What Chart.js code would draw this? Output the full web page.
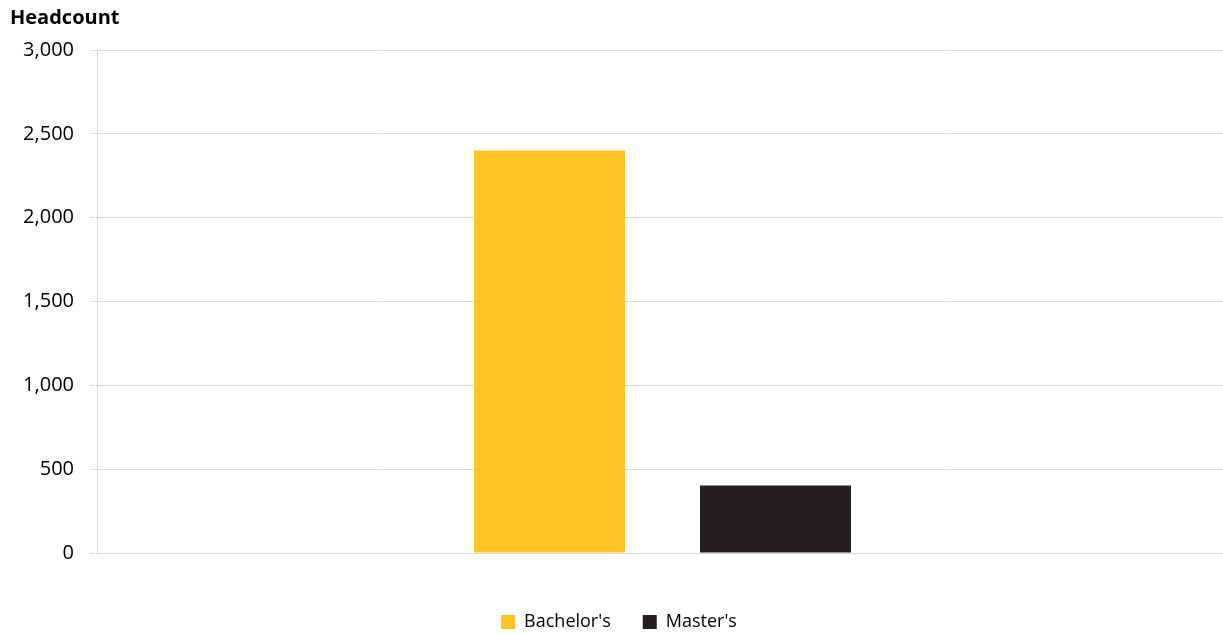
<!DOCTYPE html>
<html>
<head>
<meta charset="utf-8">
<script src="https://cdn.jsdelivr.net/npm/chart.js@4"></script>
<style>
  html, body { margin: 0; padding: 0; overflow: hidden; background: #fff; }
  #wrap { width: 1229px; height: 641px; position: relative; }
</style>
</head>
<body>
<div id="wrap"><canvas id="c"></canvas></div>
<script>
const categories = [''];
const seriesNames = ["Bachelor's", "Master's"];
const bachelorsValues = [2400];
const mastersValues = [403];
const yTicks = [0, 500, 1000, 1500, 2000, 2500, 3000];
const titleText = 'Headcount';

const gridColor = '#d9d9d9';

new Chart(document.getElementById('c'), {
  type: 'bar',
  data: {
    labels: categories,
    datasets: [
      { label: seriesNames[0], data: bachelorsValues, backgroundColor: '#FEC426', borderWidth: 0,
        categoryPercentage: 0.3996, barPercentage: 0.668 },
      { label: seriesNames[1], data: mastersValues, backgroundColor: '#231F20', borderWidth: 0,
        categoryPercentage: 0.3996, barPercentage: 0.668 }
    ]
  },
  options: {
    responsive: true,
    maintainAspectRatio: false,
    animation: false,
    layout: { padding: { left: 10, right: 1, top: 0, bottom: 0 } },
    plugins: {
      tooltip: { enabled: false },
      title: {
        display: true,
        text: titleText,
        align: 'start',
        color: '#000',
        font: { family: 'Open Sans', size: 20, weight: 'bold' },
        padding: { top: 6, bottom: 20 }
      },
      legend: {
        display: true,
        position: 'bottom',
        labels: {
          color: '#000',
          font: { family: 'Open Sans', size: 18 },
          boxWidth: 14,
          boxHeight: 14,
          padding: 32
        }
      }
    },
    scales: {
      x: {
        display: true,
        grid: { display: false, drawTicks: false },
        border: { display: false },
        ticks: { display: false },
        afterFit: (s) => { s.height = 28; }
      },
      y: {
        min: 0,
        max: 3000,
        afterBuildTicks: (s) => { s.ticks = yTicks.map(v => ({ value: v })); },
        afterFit: (s) => { s.width = 87; },
        grid: { color: gridColor, lineWidth: 1, tickLength: 7, drawTicks: true },
        border: { display: true, color: gridColor, width: 1 },
        ticks: {
          color: '#000',
          padding: 16,
          font: { family: 'Open Sans', size: 20 },
          callback: (v) => Number(v).toLocaleString('en-US')
        }
      }
    }
  }
});
</script>
</body>
</html>
